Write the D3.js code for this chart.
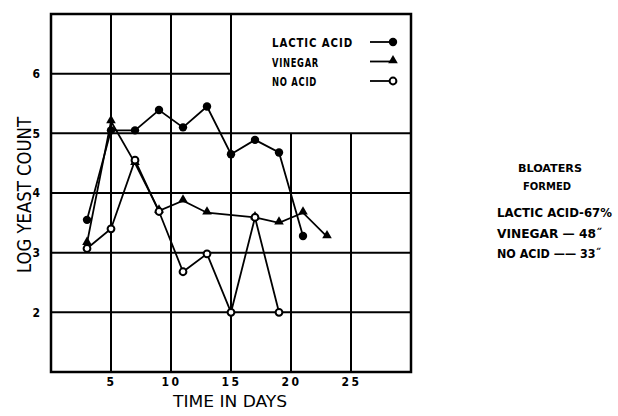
<!DOCTYPE html>
<html>
<head>
<meta charset="utf-8">
<script src="https://cdn.jsdelivr.net/npm/d3@7"></script>
<style>
  body { margin: 0; background: #fff; }
  svg text { font-family: "Liberation Sans Narrow", "DejaVu Sans Condensed", "Liberation Sans", sans-serif; font-weight: bold; fill: #000; }
</style>
</head>
<body>
<svg id="chart" width="618" height="416"></svg>
<script>
// days on the x axis, log yeast counts on the y axis
const lacticDays   = [3, 5, 7, 9, 11, 13, 15, 17, 19, 21];
const lacticValues = [3.55, 5.05, 5.05, 5.39, 5.1, 5.45, 4.65, 4.89, 4.68, 3.28];

const vinegarDays   = [3, 5, 7, 9, 11, 13, 17, 19, 21, 23];
const vinegarValues = [3.16, 5.2, 4.5, 3.7, 3.87, 3.67, 3.59, 3.5, 3.67, 3.27];

const noAcidDays   = [3, 5, 7, 9, 11, 13, 15, 17, 19];
const noAcidValues = [3.07, 3.4, 4.55, 3.69, 2.68, 2.98, 2.0, 3.59, 2.0];

const xTicks = [5, 10, 15, 20, 25];
const yTicks = [2, 3, 4, 5, 6];

const legendNames = ["LACTIC ACID", "VINEGAR", "NO ACID"];
const bloaterLines = ["LACTIC ACID-67%", "VINEGAR \u2014 48\u02DD", "NO ACID \u2014\u2014 33\u02DD"];

const svg = d3.select("#chart");

const x = d3.scaleLinear().domain([0, 30]).range([51, 411]);
const y = d3.scaleLinear().domain([1, 7]).range([372, 14]);

let series = [
    {name: legendNames[0], kind: "dot", days: lacticDays, vals: lacticValues},
    {name: legendNames[1], kind: "tri", days: vinegarDays, vals: vinegarValues},
    {name: legendNames[2], kind: "open", days: noAcidDays, vals: noAcidValues}
];

// grid - the top right corner is left blank for the legend
let grid = svg.append("g").attr("stroke", "#000").attr("stroke-width", 2);
xTicks.forEach(d => {
    let top = d > 15 ? y(5) : y(7);
    grid.append("line").attr("x1", x(d)).attr("x2", x(d)).attr("y1", top).attr("y2", y(1));
});
yTicks.forEach(v => {
    let right = v > 5 ? x(15) : x(30);
    grid.append("line").attr("x1", x(0)).attr("x2", right).attr("y1", y(v)).attr("y2", y(v));
});
svg.append("rect")
   .attr("x", x(0)).attr("y", y(7))
   .attr("width", x(30) - x(0)).attr("height", y(1) - y(7))
   .attr("fill", "none").attr("stroke", "#000").attr("stroke-width", 2.5);

// axes, drawn with d3 then restyled
let xAxis = svg.append("g")
    .attr("transform", "translate(0," + y(1) + ")")
    .call(d3.axisBottom(x).tickValues(xTicks).tickSize(0).tickPadding(5).tickFormat(d3.format("d")));
let yAxis = svg.append("g")
    .attr("transform", "translate(" + x(0) + ",0)")
    .call(d3.axisLeft(y).tickValues(yTicks).tickSize(0).tickPadding(11).tickFormat(d3.format("d")));
[xAxis, yAxis].forEach(a => {
    a.select(".domain").remove();
    a.selectAll("text").attr("font-size", 12).style("font-family", null)
     .attr("letter-spacing", 2.5);
});
yAxis.selectAll("text").attr("letter-spacing", 0);

svg.append("text")
   .attr("x", 230).attr("y", 407)
   .attr("text-anchor", "middle").attr("font-size", 16).style("font-weight", "normal")
   .attr("textLength", 114).attr("lengthAdjust", "spacingAndGlyphs")
   .text("TIME IN DAYS");

svg.append("text")
   .attr("transform", "translate(31,195) rotate(-90)")
   .attr("text-anchor", "middle").attr("font-size", 19).style("font-weight", "normal")
   .attr("textLength", 156).attr("lengthAdjust", "spacingAndGlyphs")
   .text("LOG YEAST COUNT");

// lines + markers
let line = d3.line().x(d => x(d[0])).y(d => y(d[1]));
let tri = d3.symbol().type(d3.symbolTriangle).size(40);

function drawMarker(g, kind, cx, cy) {
    if (kind === "dot") {
        g.append("circle").attr("cx", cx).attr("cy", cy).attr("r", 4.2).attr("fill", "#000");
    } else if (kind === "tri") {
        g.append("path").attr("d", tri()).attr("transform", "translate(" + cx + "," + (cy - 1) + ")").attr("fill", "#000");
    } else {
        g.append("circle").attr("cx", cx).attr("cy", cy).attr("r", 3.4)
         .attr("fill", "#fff").attr("stroke", "#000").attr("stroke-width", 2);
    }
}

series.forEach(s => {
    let pts = s.days.map((d, i) => [d, s.vals[i]]);
    svg.append("path").datum(pts)
       .attr("d", line).attr("fill", "none")
       .attr("stroke", "#000").attr("stroke-width", 1.8);
});
series.forEach(s => {
    let g = svg.append("g");
    s.days.forEach((d, i) => drawMarker(g, s.kind, x(d), y(s.vals[i])));
});

// legend
series.forEach((s, i) => {
    let ly = 42 + i * 19.5;
    svg.append("text").attr("x", 272).attr("y", ly + 5)
       .attr("font-size", 13).attr("letter-spacing", 1)
       .attr("textLength", [81, 47, 45][i]).attr("lengthAdjust", "spacingAndGlyphs")
       .text(s.name);
    svg.append("line").attr("x1", 370).attr("x2", 391).attr("y1", ly).attr("y2", ly)
       .attr("stroke", "#000").attr("stroke-width", 1.8);
    drawMarker(svg, s.kind, 393, ly);
});

// side note
svg.append("text").attr("x", 550).attr("y", 172).attr("text-anchor", "middle")
   .attr("font-size", 11).attr("textLength", 64).attr("lengthAdjust", "spacingAndGlyphs")
   .text("BLOATERS");
svg.append("text").attr("x", 547).attr("y", 190).attr("text-anchor", "middle")
   .attr("font-size", 11).attr("textLength", 48).attr("lengthAdjust", "spacingAndGlyphs")
   .text("FORMED");
bloaterLines.forEach((t, i) => {
    svg.append("text").attr("x", 497).attr("y", 217 + i * 20.5)
       .attr("font-size", 13).attr("textLength", [115, 105, 104][i]).attr("lengthAdjust", "spacingAndGlyphs")
       .text(t);
});
</script>
</body>
</html>
